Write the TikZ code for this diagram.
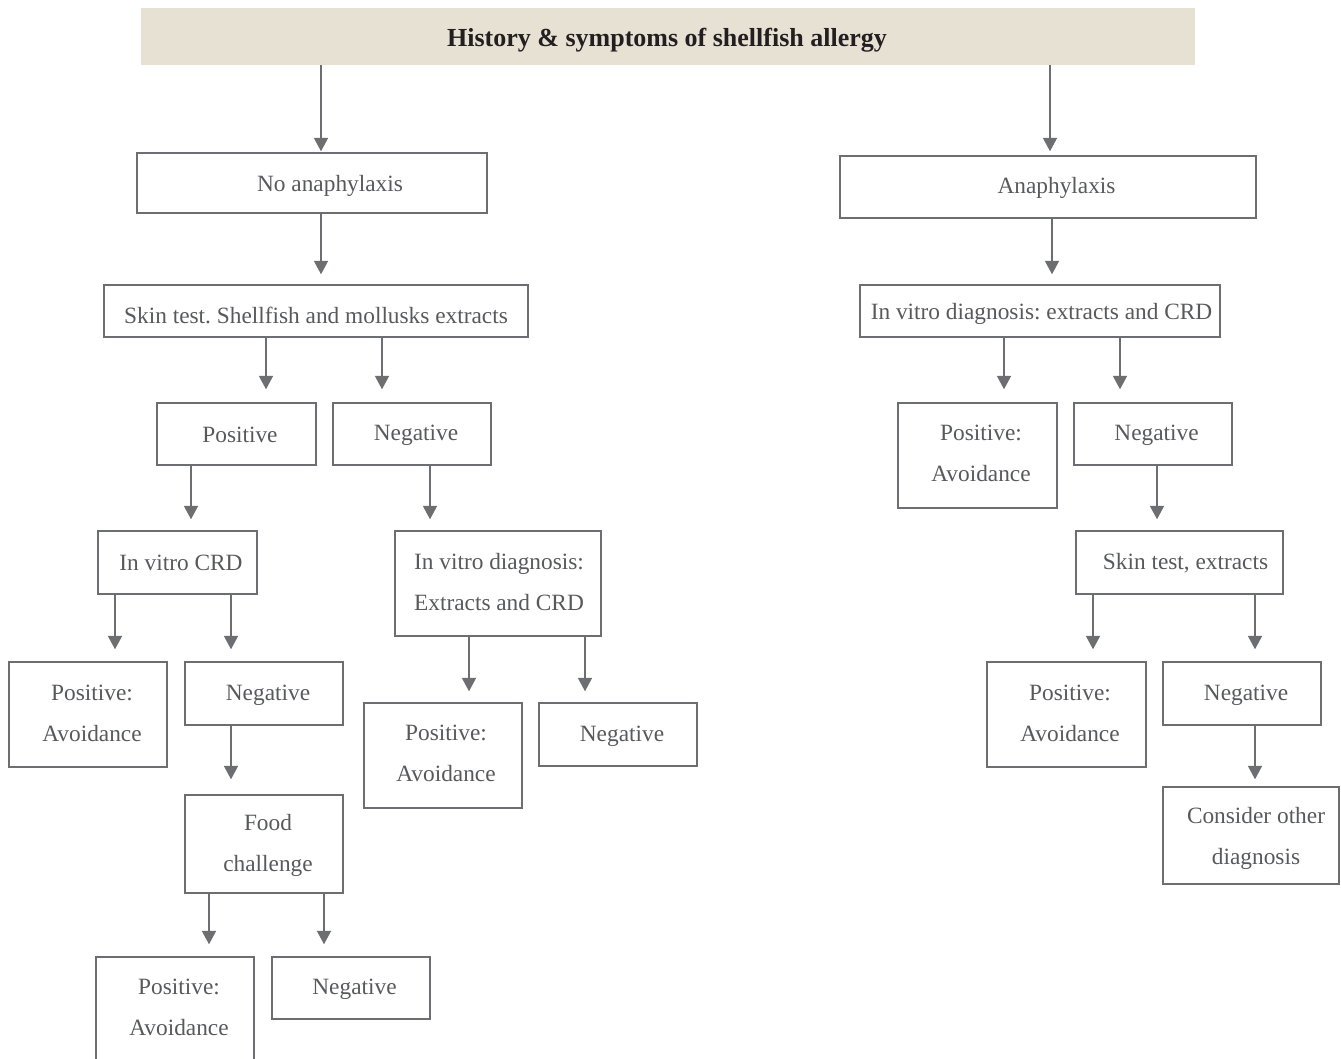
\documentclass[tikz,border=0pt]{standalone}
\usepackage{fontspec}
\setmainfont{Liberation Serif}
\usetikzlibrary{arrows.meta,fit}
\definecolor{boxline}{HTML}{6D6E71}
\definecolor{txtgray}{HTML}{58595B}
\definecolor{titlefill}{HTML}{E7E1D4}
\definecolor{titletxt}{HTML}{231F20}
\definecolor{arrgray}{HTML}{6D6E71}
\begin{document}
\frenchspacing
\begin{tikzpicture}[x=0.75pt,y=-0.75pt,
  box/.style={draw=boxline, line width=1.1pt, inner sep=0pt},
  txt/.style={text=txtgray, font=\fontsize{17.5}{30.75}\selectfont\frenchspacing, align=center, inner sep=0pt, yshift=-0.75pt},
  txtone/.style={txt, yshift=-1.5pt},
  arr/.style={draw=arrgray, line width=1.1pt, -{Triangle[length=10pt,width=10.5pt]}, shorten >=9pt},
]
\useasboundingbox (0,0) rectangle (1341,1059);

% title
\node[fit={(141,8)(1195,65)}, fill=titlefill, inner sep=0pt] (title) {};
\node[text=titletxt, font=\fontsize{19.5}{24}\selectfont\bfseries, inner sep=0pt] (title-t) at (667,40.5) {History \& symptoms of shellfish allergy};

% boxes - left branch
\node[box, fit={(137,153)(487,213)}] (noana) {};
\node[txtone] (noana-t) at (330,183) {No anaphylaxis};
\node[box, fit={(104,285)(528,337)}] (skin) {};
\node[txtone] (skin-t) at (316,312) {Skin test. Shellfish and mollusks extracts};
\node[box, fit={(157,403)(316,465)}] (pos1) {};
\node[txtone] (pos1-t) at (240,432) {Positive};
\node[box, fit={(333,403)(491,465)}] (neg1) {};
\node[txtone] (neg1-t) at (416,432) {Negative};
\node[box, fit={(98,531)(257,594)}] (crd) {};
\node[txtone] (crd-t) at (181,560) {In vitro CRD};
\node[box, fit={(395,531)(601,636)}] (ivd) {};
\node[txt] (ivd-t) at (499,581) {In vitro diagnosis:\\Extracts and CRD};
\node[box, fit={(9,662)(167,767)}] (pa1) {};
\node[txt] (pa1-t) at (92,712) {Positive:\\Avoidance};
\node[box, fit={(185,662)(343,725)}] (neg2) {};
\node[txtone] (neg2-t) at (268,692) {Negative};
\node[box, fit={(185,795)(343,893)}] (food) {};
\node[txt] (food-t) at (268,844.5) {Food\\challenge};
\node[box, fit={(96,957)(254,1062)}] (pa2) {};
\node[txt] (pa2-t) at (179,1006) {Positive:\\Avoidance};
\node[box, fit={(272,957)(430,1019)}] (neg3) {};
\node[txtone] (neg3-t) at (354.5,986) {Negative};
\node[box, fit={(364,703)(522,808)}] (pa3) {};
\node[txt] (pa3-t) at (446,752.5) {Positive:\\Avoidance};
\node[box, fit={(539,703)(697,766)}] (neg4) {};
\node[txtone] (neg4-t) at (622,733) {Negative};

% boxes - right branch
\node[box, fit={(840,156)(1256,218)}] (ana) {};
\node[txtone] (ana-t) at (1056.5,185) {Anaphylaxis};
\node[box, fit={(860,285)(1220,337)}] (ivr) {};
\node[txtone] (ivr-t) at (1041.5,311) {In vitro diagnosis: extracts and CRD};
\node[box, fit={(898,403)(1057,508)}] (pa4) {};
\node[txt] (pa4-t) at (981,452.5) {Positive:\\Avoidance};
\node[box, fit={(1074,403)(1232,465)}] (neg5) {};
\node[txtone] (neg5-t) at (1156.5,432) {Negative};
\node[box, fit={(1076,531)(1283,594)}] (skr) {};
\node[txtone] (skr-t) at (1185.5,560) {Skin test, extracts};
\node[box, fit={(987,662)(1146,767)}] (pa5) {};
\node[txt] (pa5-t) at (1070,712) {Positive:\\Avoidance};
\node[box, fit={(1163,662)(1321,725)}] (neg6) {};
\node[txtone] (neg6-t) at (1246,692) {Negative};
\node[box, fit={(1163,787)(1339,884)}] (cons) {};
\node[txt] (cons-t) at (1256,837.5) {Consider other\\diagnosis};

% arrows
\draw[arr, shorten >=0.75pt] (321,0 |- title.south) -- (321,0 |- noana.north);
\draw[arr, shorten >=3pt] (1050,0 |- title.south) -- (1050,0 |- ana.north);
\draw[arr, shorten >=7.5pt] (321,0 |- noana.south) -- (321,0 |- skin.north);
\draw[arr, shorten >=9.75pt] (266,0 |- skin.south) -- (266,0 |- pos1.north);
\draw[arr, shorten >=9.75pt] (382,0 |- skin.south) -- (382,0 |- neg1.north);
\draw[arr, shorten >=8.25pt] (191,0 |- pos1.south) -- (191,0 |- crd.north);
\draw[arr, shorten >=8.25pt] (430,0 |- neg1.south) -- (430,0 |- ivd.north);
\draw[arr] (115,0 |- crd.south) -- (115,0 |- pa1.north);
\draw[arr] (231,0 |- crd.south) -- (231,0 |- neg2.north);
\draw[arr, shorten >=11.25pt] (231,0 |- neg2.south) -- (231,0 |- food.north);
\draw[arr] (209,0 |- food.south) -- (209,0 |- pa2.north);
\draw[arr] (324,0 |- food.south) -- (324,0 |- neg3.north);
\draw[arr, shorten >=8.25pt] (469,0 |- ivd.south) -- (469,0 |- pa3.north);
\draw[arr, shorten >=8.25pt] (585,0 |- ivd.south) -- (585,0 |- neg4.north);
\draw[arr, shorten >=7.5pt] (1052,0 |- ana.south) -- (1052,0 |- ivr.north);
\draw[arr, shorten >=9.75pt] (1004,0 |- ivr.south) -- (1004,0 |- pa4.north);
\draw[arr, shorten >=9.75pt] (1120,0 |- ivr.south) -- (1120,0 |- neg5.north);
\draw[arr, shorten >=8.25pt] (1157,0 |- neg5.south) -- (1157,0 |- skr.north);
\draw[arr] (1093,0 |- skr.south) -- (1093,0 |- pa5.north);
\draw[arr] (1255,0 |- skr.south) -- (1255,0 |- neg6.north);
\draw[arr, shorten >=5.25pt] (1255,0 |- neg6.south) -- (1255,0 |- cons.north);
\end{tikzpicture}
\end{document}
